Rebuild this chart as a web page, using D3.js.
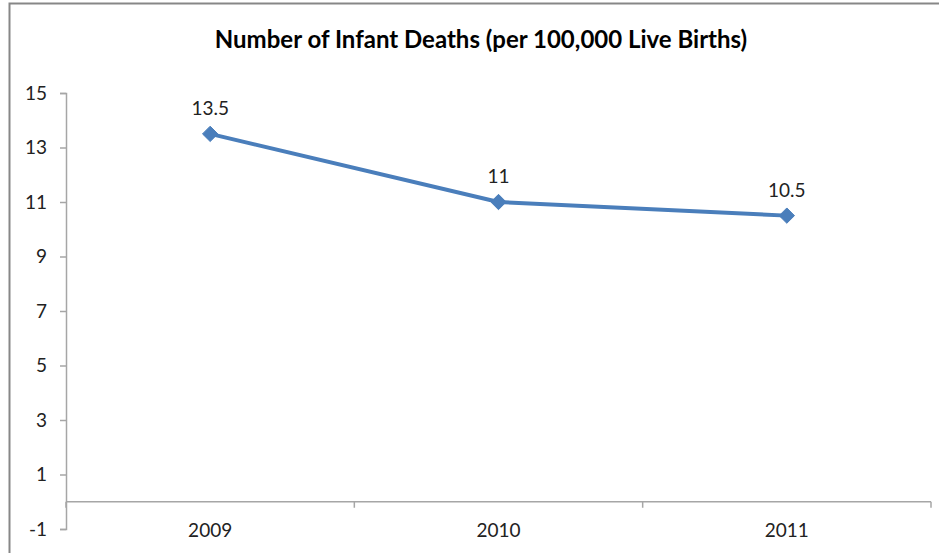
<!DOCTYPE html>
<html><head><meta charset="utf-8">
<script src="https://cdn.jsdelivr.net/npm/d3@7"></script>
<style>html,body{margin:0;padding:0;background:#fff;overflow:hidden}</style>
</head><body>
<svg id="c" width="939" height="553"></svg>
<script>
const title = "Number of Infant Deaths (per 100,000 Live Births)";
const categories = ["2009", "2010", "2011"];
const values = [13.5, 11, 10.5];
const yTicks = [-1, 1, 3, 5, 7, 9, 11, 13, 15];

(function () {
const svg = d3.select("#c");
const font = "Lato, 'Liberation Sans', sans-serif";
const mLeft = 66, mRight = 931, mTop = 93, mBottom = 529;

// chart frame
svg.append("rect").attr("x", 9.5).attr("y", 3.5).attr("width", 960).attr("height", 600)
  .attr("fill", "#fff").attr("stroke", "#878787").attr("stroke-width", 2);

svg.append("text").attr("x", 481).attr("y", 48).attr("text-anchor", "middle")
  .attr("font-family", font).attr("font-weight", "bold").attr("font-size", 24)
  .attr("fill", "#000").text(title);

const y = d3.scaleLinear().domain([-1, 15]).range([mBottom, mTop]);
const x = d3.scaleBand().domain(categories).range([mLeft, mRight]).padding(0);

// y axis
const yAxis = d3.axisLeft(y).tickValues(yTicks).tickSize(6).tickPadding(13).tickFormat(d => String(d));
const gy = svg.append("g").attr("transform", `translate(${mLeft},0)`).call(yAxis);
gy.select(".domain").attr("stroke", "#a6a6a6").attr("stroke-width", 1.5);
gy.selectAll(".tick line").attr("stroke", "#a6a6a6").attr("stroke-width", 1.5);
gy.selectAll(".tick text").attr("font-family", font).attr("font-size", 19).attr("fill", "#222");

// x axis line at y=0
const y0 = y(0);
svg.append("line").attr("x1", mLeft).attr("x2", mRight).attr("y1", y0).attr("y2", y0)
  .attr("stroke", "#a6a6a6").attr("stroke-width", 1.5);
const bounds = categories.map(c => x(c)).concat([x(categories[categories.length - 1]) + x.bandwidth()]);
svg.selectAll(".xt").data(bounds).enter().append("line")
  .attr("x1", d => d).attr("x2", d => d).attr("y1", y0).attr("y2", y0 + 6)
  .attr("stroke", "#a6a6a6").attr("stroke-width", 1.5);
svg.selectAll(".xl").data(categories).enter().append("text")
  .attr("x", d => x(d) + x.bandwidth() / 2).attr("y", 537)
  .attr("text-anchor", "middle").attr("font-family", font).attr("font-size", 19).attr("fill", "#222")
  .text(d => d);

// line
const pts = categories.map((c, i) => [x(c) + x.bandwidth() / 2, y(values[i])]);
svg.append("path").attr("d", d3.line()(pts)).attr("fill", "none")
  .attr("stroke", "#4a7ebb").attr("stroke-width", 4).attr("stroke-linejoin", "round");
svg.selectAll(".m").data(pts).enter().append("path")
  .attr("transform", d => `translate(${d[0]},${d[1]})`)
  .attr("d", d3.symbol().type(d3.symbolDiamond2).size(150))
  .attr("fill", "#4a7ebb").attr("stroke", "#4a7ebb").attr("stroke-width", 1);

svg.selectAll(".dl").data(values).enter().append("text")
  .attr("x", (d, i) => pts[i][0]).attr("y", (d, i) => pts[i][1] - 19)
  .attr("text-anchor", "middle").attr("font-family", font).attr("font-size", 19).attr("fill", "#222")
  .text(d => d);
})();
</script>
</body></html>
